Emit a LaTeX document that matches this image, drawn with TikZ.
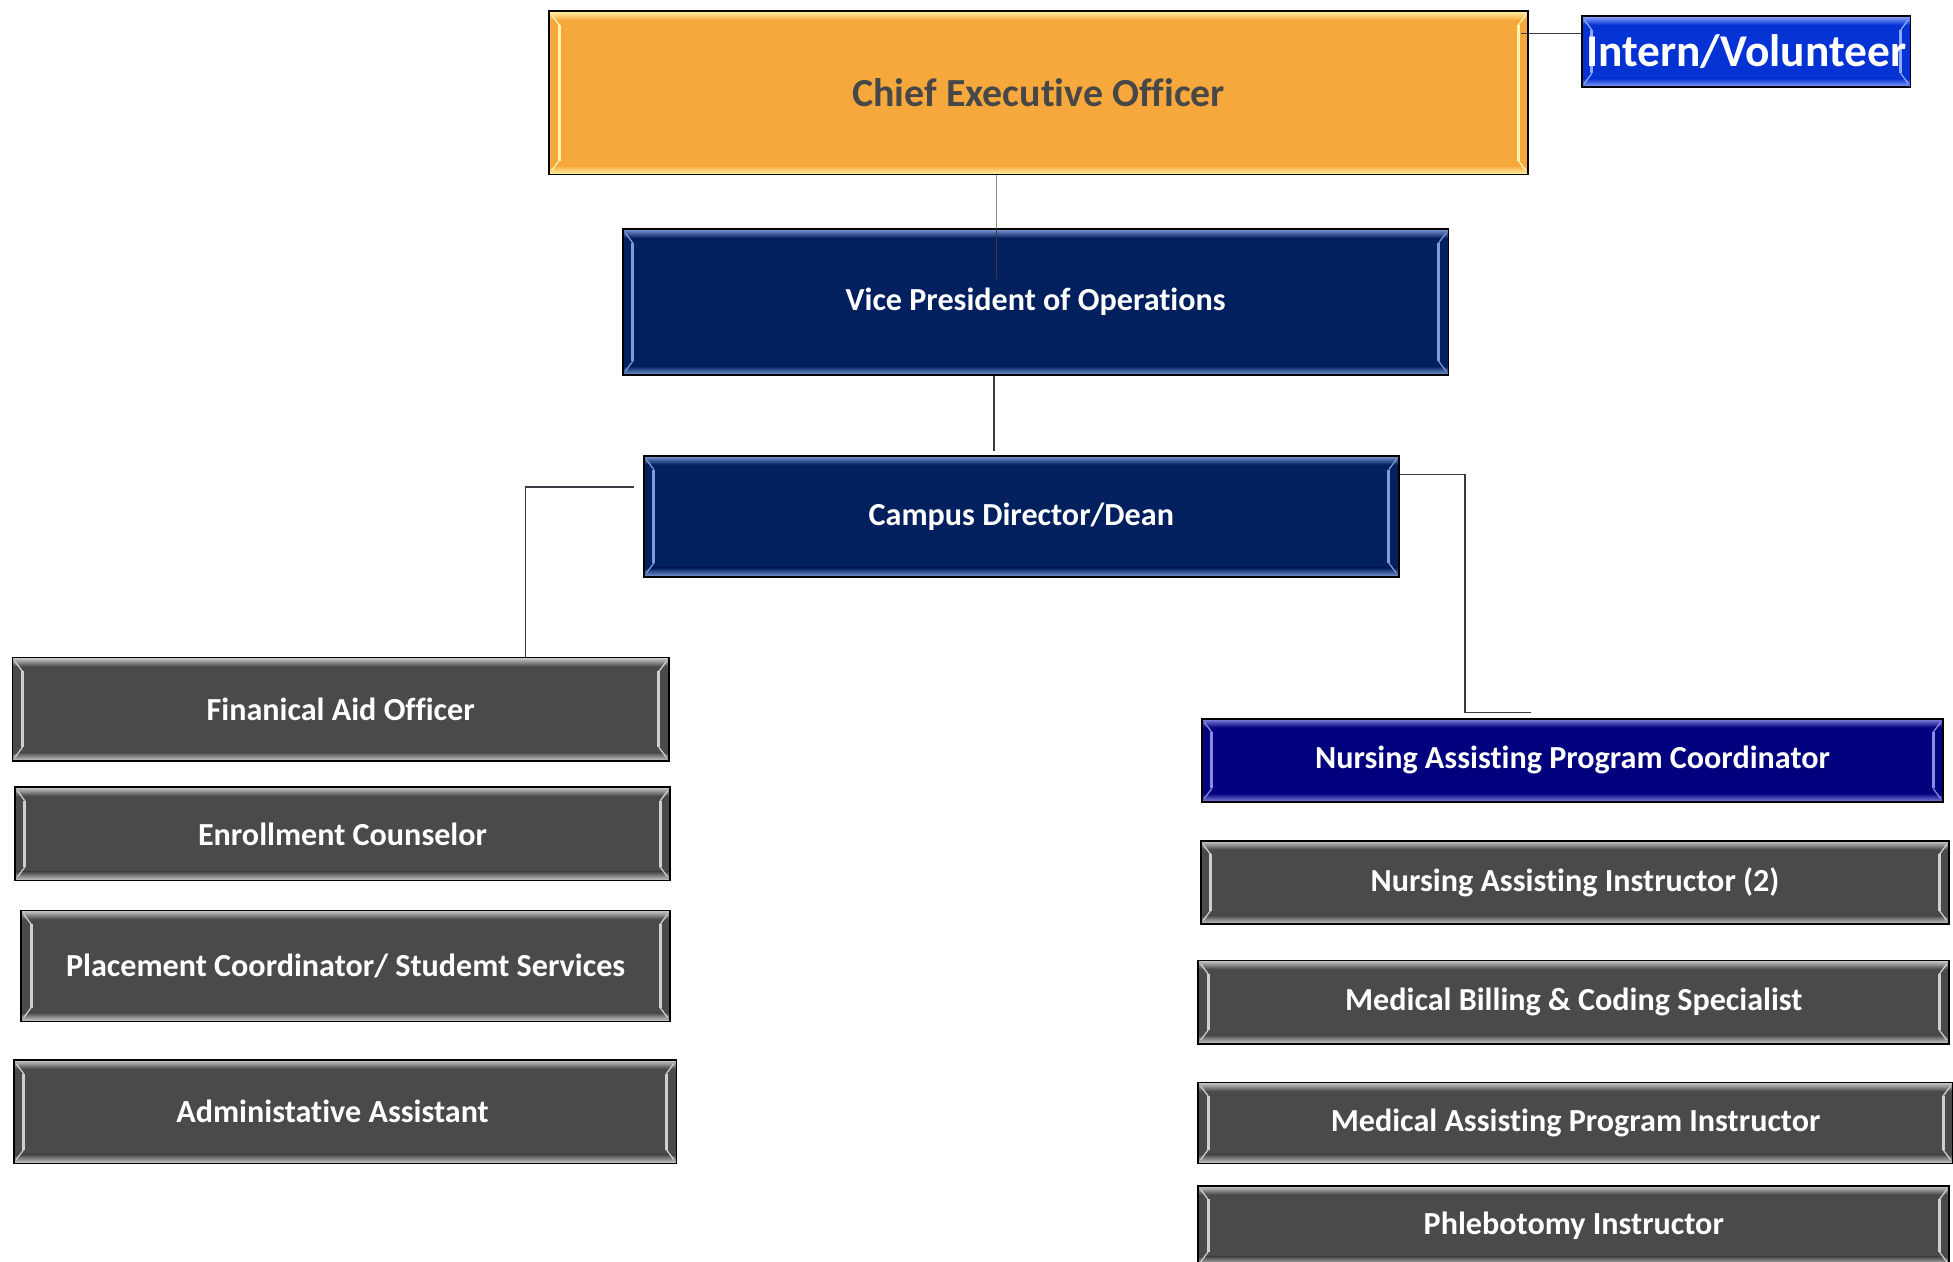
\documentclass[tikz,border=0pt]{standalone}
\usepackage{fontspec}
\setmainfont{Carlito}[Ligatures=NoCommon]
\usetikzlibrary{calc}
\definecolor{orangefill}{HTML}{F7A83D}
\definecolor{orangehl}{HTML}{FFF4A8}
\definecolor{orangetext}{HTML}{474747}
\definecolor{navyfill}{HTML}{03205E}
\definecolor{navyhl}{HTML}{7D9BD6}
\definecolor{navytext}{HTML}{FFFFFF}
\definecolor{bluefill}{HTML}{0532D2}
\definecolor{bluehl}{HTML}{8CA8FF}
\definecolor{bluetext}{HTML}{FFFFFF}
\definecolor{purplefill}{HTML}{02027E}
\definecolor{purplehl}{HTML}{8A8AE6}
\definecolor{purpletext}{HTML}{FFFFFF}
\definecolor{greyfill}{HTML}{4A4A4A}
\definecolor{greyhl}{HTML}{CFCFCF}
\definecolor{greytext}{HTML}{FFFFFF}
\definecolor{connector}{HTML}{3A3A45}
\tikzset{
  orgnode/.style={rectangle, draw=black, line width=1.3pt, inner sep=0pt, align=center},
  conn/.style={draw=connector, line width=1.3pt},
  lightconn/.style={draw=gray!90, line width=1.2pt}
}
% #1 name, #2 x1, #3 y1, #4 x2, #5 y2, #6 scheme, #7 font size, #8 text
\newcommand\orgbox[8]{%
  \fill[#6fill] (#2,-#3) rectangle (#4,-#5);
  \shade[top color=#6hl, bottom color=#6fill] (#2,-#3) rectangle (#4,{-#3-7});
  \shade[top color=#6fill, bottom color=#6hl] (#2,{-#5+7}) rectangle (#4,-#5);
  \draw[#6hl, line width=2.4pt] ({#2+8},{-#3-11}) -- ({#2+8},{-#5+11});
  \draw[#6hl, line width=1pt] ({#2+2},{-#3-3}) -- ({#2+8},{-#3-11});
  \draw[#6hl, line width=1pt] ({#2+2},{-#5+3}) -- ({#2+8},{-#5+11});
  \draw[#6hl, line width=2.4pt] ({#4-8},{-#3-11}) -- ({#4-8},{-#5+11});
  \draw[#6hl, line width=1pt] ({#4-2},{-#3-3}) -- ({#4-8},{-#3-11});
  \draw[#6hl, line width=1pt] ({#4-2},{-#5+3}) -- ({#4-8},{-#5+11});
  \node[orgnode, text=#6text, font=\bfseries\fontsize{#7}{#7}\selectfont,
        minimum width={(#4-#2)*1pt}, minimum height={(#5-#3)*1pt}]
        (#1) at ({(#2+#4)/2},{-(#3+#5)/2}) {#8};
}
\begin{document}
\begin{tikzpicture}[x=1pt,y=1pt]
\useasboundingbox (0,0) rectangle (1568,-1013);
\fill[white] (0,0) rectangle (1568,-1013);
% boxes
\orgbox{ceo}{441}{9}{1227}{140}{orange}{32}{Chief Executive Officer}
\orgbox{intern}{1270}{13}{1534}{70}{blue}{36.5}{Intern/Volunteer}
\orgbox{vp}{500}{184}{1163}{301}{navy}{25.8}{Vice President of Operations}
\orgbox{campus}{517}{366}{1123}{463}{navy}{25.8}{Campus Director/Dean}
\orgbox{fin}{10}{528}{537}{611}{grey}{25.8}{Finanical Aid Officer}
\orgbox{enr}{12}{632}{538}{707}{grey}{25.8}{Enrollment Counselor}
\orgbox{plc}{17}{731}{538}{820}{grey}{25.8}{Placement Coordinator/ Studemt Services}
\orgbox{adm}{11}{851}{543}{934}{grey}{25.8}{Administative Assistant\hspace*{20pt}}
\orgbox{napc}{965}{577}{1560}{644}{purple}{25.8}{Nursing Assisting Program Coordinator}
\orgbox{nai}{964}{675}{1565}{742}{grey}{25.8}{Nursing Assisting Instructor (2)}
\orgbox{mbcs}{962}{771}{1565}{838}{grey}{25.8}{Medical Billing \& Coding Specialist}
\orgbox{mapi}{962}{869}{1568}{934}{grey}{25.8}{Medical Assisting Program Instructor}
\orgbox{phl}{962}{952}{1565}{1016}{grey}{25.8}{Phlebotomy Instructor}
% connectors
\coordinate (c1) at (800,-224);
\draw[lightconn] (ceo.south -| c1) -- (vp.north -| c1);
\draw[conn] (vp.north -| c1) -- (c1);
\coordinate (c2) at (798,-362);
\draw[conn] (vp.south -| c2) -- (c2);
\coordinate (c3) at (509,-391);
\coordinate (c4) at (422,-391);
\draw[conn] (c3) -- (c4) -- (fin.north -| c4);
\coordinate (c5) at (1176,-381);
\coordinate (c6) at (1229,-572);
\draw[conn] (campus.east |- c5) -- (c5) |- (c6);
\coordinate (c7) at (1221,-27);
\draw[conn] (c7) -- (intern.west |- c7);
\end{tikzpicture}
\end{document}
